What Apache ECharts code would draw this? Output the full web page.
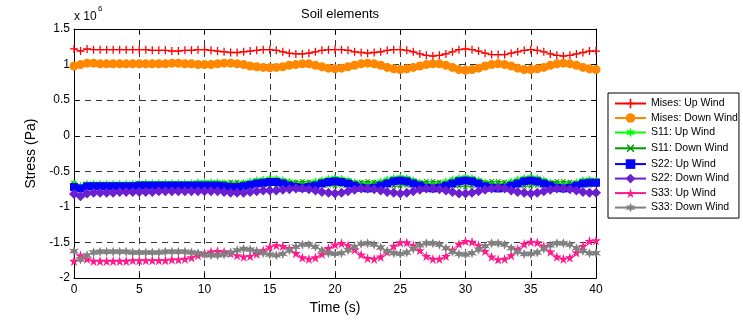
<!DOCTYPE html>
<html>
<head>
<meta charset="utf-8">
<script src="https://cdn.jsdelivr.net/npm/echarts@6/dist/echarts.min.js"></script>
<style>
html,body{margin:0;padding:0;background:#fff;}
#c{width:743px;height:320px;}
</style>
</head>
<body>
<div id="c"></div>
<script>
// Time (s)
const times = [0,0.5,1,1.5,2,2.5,3,3.5,4,4.5,5,5.5,6,6.5,7,7.5,8,8.5,9,9.5,10,10.5,11,11.5,12,12.5,13,13.5,14,14.5,15,15.5,16,16.5,17,17.5,18,18.5,19,19.5,20,20.5,21,21.5,22,22.5,23,23.5,24,24.5,25,25.5,26,26.5,27,27.5,28,28.5,29,29.5,30,30.5,31,31.5,32,32.5,33,33.5,34,34.5,35,35.5,36,36.5,37,37.5,38,38.5,39,39.5,40];
// Stress values in units of 1e6 Pa
const misesUp = [1.22,1.19,1.22,1.21,1.21,1.21,1.21,1.21,1.21,1.21,1.21,1.21,1.20,1.20,1.20,1.19,1.19,1.20,1.20,1.21,1.21,1.20,1.19,1.18,1.17,1.17,1.18,1.19,1.20,1.21,1.21,1.20,1.18,1.16,1.15,1.15,1.16,1.18,1.20,1.21,1.21,1.21,1.20,1.18,1.17,1.16,1.17,1.18,1.20,1.21,1.21,1.20,1.18,1.15,1.13,1.12,1.13,1.15,1.18,1.21,1.22,1.21,1.19,1.16,1.14,1.14,1.14,1.16,1.18,1.20,1.21,1.20,1.18,1.15,1.13,1.12,1.13,1.15,1.17,1.19,1.19];
const misesDown = [0.98,1.00,1.02,1.02,1.01,1.01,1.01,1.01,1.01,1.01,1.01,1.01,1.01,1.01,1.01,1.02,1.02,1.01,1.01,1.00,1.00,1.00,1.01,1.02,1.02,1.01,1.00,0.98,0.97,0.96,0.955,0.96,0.97,0.99,1.00,1.01,1.01,0.99,0.97,0.95,0.94,0.95,0.97,0.99,1.01,1.02,1.01,0.99,0.96,0.94,0.93,0.94,0.96,0.98,1.00,1.01,1.01,0.99,0.96,0.93,0.92,0.93,0.95,0.98,1.00,1.01,1.00,0.98,0.95,0.93,0.93,0.94,0.96,0.99,1.01,1.02,1.01,0.99,0.96,0.94,0.93];
const s11Up = [-0.66,-0.70,-0.67,-0.67,-0.67,-0.67,-0.67,-0.67,-0.67,-0.67,-0.66,-0.66,-0.66,-0.66,-0.66,-0.66,-0.66,-0.66,-0.66,-0.65,-0.65,-0.65,-0.65,-0.66,-0.67,-0.67,-0.66,-0.64,-0.62,-0.61,-0.60,-0.60,-0.62,-0.64,-0.66,-0.67,-0.66,-0.64,-0.62,-0.60,-0.59,-0.60,-0.62,-0.65,-0.67,-0.67,-0.66,-0.64,-0.61,-0.59,-0.58,-0.59,-0.62,-0.65,-0.67,-0.68,-0.67,-0.64,-0.61,-0.59,-0.58,-0.59,-0.62,-0.65,-0.67,-0.68,-0.67,-0.64,-0.61,-0.59,-0.58,-0.59,-0.62,-0.65,-0.67,-0.68,-0.67,-0.65,-0.62,-0.61,-0.62];
const s11Down = [-0.68,-0.72,-0.69,-0.68,-0.68,-0.68,-0.68,-0.68,-0.68,-0.68,-0.68,-0.68,-0.68,-0.68,-0.68,-0.68,-0.68,-0.68,-0.68,-0.67,-0.67,-0.67,-0.67,-0.66,-0.65,-0.65,-0.66,-0.67,-0.69,-0.70,-0.70,-0.70,-0.68,-0.66,-0.65,-0.64,-0.65,-0.67,-0.69,-0.70,-0.71,-0.70,-0.68,-0.66,-0.65,-0.64,-0.65,-0.67,-0.69,-0.71,-0.71,-0.70,-0.68,-0.66,-0.64,-0.64,-0.65,-0.67,-0.70,-0.71,-0.72,-0.71,-0.68,-0.66,-0.64,-0.64,-0.65,-0.67,-0.70,-0.71,-0.71,-0.70,-0.68,-0.66,-0.64,-0.64,-0.65,-0.67,-0.69,-0.70,-0.69];
const s22Up = [-0.72,-0.74,-0.71,-0.71,-0.71,-0.71,-0.71,-0.71,-0.71,-0.71,-0.70,-0.70,-0.70,-0.70,-0.70,-0.70,-0.70,-0.70,-0.70,-0.70,-0.70,-0.70,-0.70,-0.71,-0.72,-0.72,-0.71,-0.69,-0.67,-0.66,-0.65,-0.65,-0.67,-0.70,-0.72,-0.73,-0.72,-0.70,-0.67,-0.65,-0.64,-0.65,-0.67,-0.70,-0.73,-0.74,-0.73,-0.70,-0.67,-0.64,-0.63,-0.64,-0.67,-0.70,-0.73,-0.74,-0.73,-0.70,-0.67,-0.64,-0.63,-0.64,-0.67,-0.71,-0.73,-0.74,-0.73,-0.70,-0.67,-0.64,-0.63,-0.64,-0.67,-0.70,-0.73,-0.74,-0.73,-0.70,-0.67,-0.66,-0.66];
const s22Down = [-0.82,-0.85,-0.81,-0.80,-0.80,-0.80,-0.80,-0.79,-0.79,-0.79,-0.79,-0.79,-0.79,-0.78,-0.78,-0.78,-0.78,-0.78,-0.78,-0.78,-0.78,-0.78,-0.78,-0.79,-0.80,-0.80,-0.80,-0.79,-0.78,-0.77,-0.77,-0.77,-0.76,-0.75,-0.74,-0.74,-0.75,-0.77,-0.79,-0.80,-0.81,-0.80,-0.78,-0.76,-0.74,-0.74,-0.75,-0.77,-0.79,-0.80,-0.81,-0.80,-0.78,-0.76,-0.74,-0.74,-0.75,-0.77,-0.79,-0.81,-0.81,-0.80,-0.78,-0.76,-0.74,-0.73,-0.74,-0.77,-0.79,-0.80,-0.81,-0.80,-0.78,-0.76,-0.74,-0.74,-0.75,-0.77,-0.79,-0.80,-0.80];
const s33Up = [-1.76,-1.68,-1.73,-1.76,-1.76,-1.76,-1.76,-1.76,-1.76,-1.75,-1.75,-1.75,-1.75,-1.75,-1.75,-1.74,-1.74,-1.73,-1.71,-1.68,-1.65,-1.63,-1.62,-1.63,-1.65,-1.68,-1.70,-1.69,-1.66,-1.61,-1.56,-1.54,-1.55,-1.58,-1.65,-1.71,-1.73,-1.71,-1.66,-1.58,-1.53,-1.51,-1.54,-1.60,-1.67,-1.72,-1.73,-1.70,-1.63,-1.55,-1.50,-1.50,-1.54,-1.61,-1.69,-1.73,-1.73,-1.69,-1.60,-1.52,-1.48,-1.49,-1.54,-1.62,-1.70,-1.74,-1.73,-1.68,-1.59,-1.52,-1.49,-1.50,-1.55,-1.63,-1.70,-1.73,-1.71,-1.64,-1.55,-1.48,-1.47];
const s33Down = [-1.62,-1.74,-1.68,-1.64,-1.63,-1.63,-1.63,-1.63,-1.63,-1.64,-1.64,-1.64,-1.64,-1.64,-1.63,-1.63,-1.63,-1.63,-1.64,-1.65,-1.67,-1.68,-1.68,-1.67,-1.64,-1.61,-1.59,-1.60,-1.62,-1.65,-1.67,-1.68,-1.66,-1.61,-1.56,-1.53,-1.53,-1.56,-1.61,-1.65,-1.66,-1.65,-1.61,-1.56,-1.52,-1.51,-1.53,-1.57,-1.62,-1.65,-1.66,-1.64,-1.59,-1.54,-1.51,-1.51,-1.53,-1.58,-1.63,-1.66,-1.67,-1.65,-1.60,-1.55,-1.51,-1.51,-1.53,-1.58,-1.63,-1.66,-1.66,-1.64,-1.59,-1.54,-1.51,-1.51,-1.53,-1.58,-1.62,-1.65,-1.65];

const seriesNames = ['Mises: Up Wind','Mises: Down Wind','S11: Up Wind','S11: Down Wind','S22: Up Wind','S22: Down Wind','S33: Up Wind','S33: Down Wind'];
const yTicks = [-2,-1.5,-1,-0.5,0,0.5,1,1.5];
const xTicks = [0,5,10,15,20,25,30,35,40];

const FONT = '"Liberation Sans", Arial, Helvetica, sans-serif';
const PLUS = 'path://M4.2,0h1.6v4.2h4.2v1.6h-4.2v4.2h-1.6v-4.2h-4.2v-1.6h4.2z';
const STAR5 = 'path://M50,0L61,35L98,35L68,57L79,91L50,70L21,91L32,57L2,35L39,35Z';
const STAR6 = 'path://M50,0L61,31L93,25L72,50L93,75L61,69L50,100L39,69L7,75L28,50L7,25L39,31Z';

const styles = [
  {color:'#ff0000', symbol:PLUS, size:8, rot:0},
  {color:'#ff8800', symbol:'circle', size:9, rot:0},
  {color:'#00ff00', symbol:STAR6, size:8, rot:0},
  {color:'#009900', symbol:PLUS, size:6, rot:45},
  {color:'#0000ff', symbol:'rect', size:8, rot:0},
  {color:'#6a1fd1', symbol:'diamond', size:10, rot:0},
  {color:'#ff1a8c', symbol:STAR5, size:10, rot:0},
  {color:'#808080', symbol:STAR6, size:10, rot:0}
];
const values = [misesUp, misesDown, s11Up, s11Down, s22Up, s22Down, s33Up, s33Down];

const series = values.map((vals, i) => ({
  name: seriesNames[i],
  type: 'line',
  xAxisIndex: 0, yAxisIndex: 0,
  data: times.map((t, k) => [t, vals[k]]),
  symbol: styles[i].symbol,
  symbolSize: styles[i].size,
  symbolRotate: styles[i].rot,
  showAllSymbol: true,
  lineStyle: {color: styles[i].color, width: 1},
  itemStyle: {color: styles[i].color, borderWidth: 0},
  emphasis: {disabled: true},
  animation: false
}));

const chart = echarts.init(document.getElementById('c'), null, {renderer: 'canvas'});
chart.setOption({
  animation: false,
  backgroundColor: '#fff',
  title: {
    text: 'Soil elements', left: 335, top: 3, textAlign: 'center',
    textStyle: {fontFamily: FONT, fontSize: 13, fontWeight: 'normal', color: '#000'}
  },
  grid: {left: 74, right: 147, top: 29, bottom: 40},
  legend: {
    orient: 'vertical', left: 608, top: 93,
    padding: [5, 1, 5, 6], itemGap: 3.5, itemWidth: 31, itemHeight: 12,
    borderColor: '#000', borderWidth: 1, backgroundColor: '#fff',
    textStyle: {fontFamily: FONT, fontSize: 10.5, color: '#000'},
    data: seriesNames
  },
  xAxis: [
    {type: 'value', min: 0, max: 40, interval: 5, position: 'bottom',
     name: 'Time (s)', nameLocation: 'middle', nameGap: 20,
     nameTextStyle: {fontFamily: FONT, fontSize: 14, color: '#000'},
     axisLine: {show: true, onZero: false, lineStyle: {color: '#000', width: 1}},
     axisTick: {show: true, inside: true, length: 5, lineStyle: {color: '#000'}},
     axisLabel: {fontFamily: FONT, fontSize: 12, color: '#000', margin: 6},
     splitLine: {show: true, lineStyle: {color: '#000', width: 0.8, type: [6, 5]}}},
    {type: 'value', min: 0, max: 40, interval: 5, position: 'top',
     axisLine: {show: true, onZero: false, lineStyle: {color: '#000', width: 1}},
     axisTick: {show: true, inside: true, length: 5, lineStyle: {color: '#000'}},
     axisLabel: {show: false}, splitLine: {show: false}}
  ],
  yAxis: [
    {type: 'value', min: -2, max: 1.5, interval: 0.5, position: 'left',
     name: 'Stress (Pa)', nameLocation: 'middle', nameGap: 34,
     nameTextStyle: {fontFamily: FONT, fontSize: 14, color: '#000'},
     axisLine: {show: true, onZero: false, lineStyle: {color: '#000', width: 1}},
     axisTick: {show: true, inside: true, length: 5, lineStyle: {color: '#000'}},
     axisLabel: {fontFamily: FONT, fontSize: 12, color: '#000', margin: 4,
       formatter: v => String(v)},
     splitLine: {show: true, lineStyle: {color: '#000', width: 0.8, type: [6, 5]}}},
    {type: 'value', min: -2, max: 1.5, interval: 0.5, position: 'right',
     axisLine: {show: true, onZero: false, lineStyle: {color: '#000', width: 1}},
     axisTick: {show: true, inside: true, length: 5, lineStyle: {color: '#000'}},
     axisLabel: {show: false}, splitLine: {show: false}}
  ],
  graphic: [
    {type: 'text', left: 74, top: 11, style: {text: 'x 10', font: '12px ' + FONT, fill: '#000'}},
    {type: 'text', left: 98, top: 5, style: {text: '6', font: '8px ' + FONT, fill: '#000'}}
  ],
  series: series
});
</script>
</body>
</html>
